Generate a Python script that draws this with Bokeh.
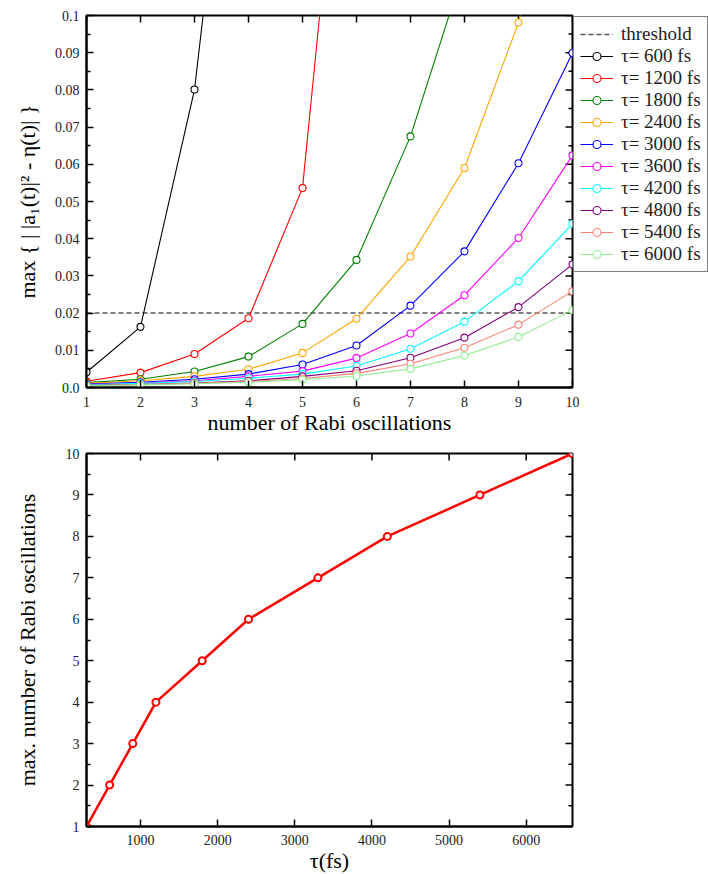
import math
from bokeh.plotting import figure
from bokeh.models import FixedTicker, Range1d, Legend, LegendItem
from bokeh.layouts import column
from bokeh.embed import file_html
from bokeh.resources import INLINE

FONT = "Liberation Serif"

# ---------------- data: top panel ----------------
n_rabi = [1, 2, 3, 4, 5, 6, 7, 8, 9, 10]
threshold = 0.02
series_labels = ["τ= 600 fs", "τ= 1200 fs", "τ= 1800 fs", "τ= 2400 fs", "τ= 3000 fs",
                 "τ= 3600 fs", "τ= 4200 fs", "τ= 4800 fs", "τ= 5400 fs", "τ= 6000 fs"]
series_colors = ["black", "red", "green", "orange", "blue",
                 "magenta", "cyan", "purple", "salmon", "lightgreen"]
err_600 = [0.0041, 0.0163, 0.0801, 0.205]
err_1200 = [0.0017, 0.0040, 0.0090, 0.0186, 0.0536, 0.200]
err_1800 = [0.0013, 0.0022, 0.0043, 0.0083, 0.0171, 0.0343, 0.0675, 0.113]
err_2400 = [0.0011, 0.0018, 0.0030, 0.0049, 0.0093, 0.0185, 0.0352, 0.0590, 0.0981, 0.163]
err_3000 = [0.0009, 0.0014, 0.0022, 0.0036, 0.0062, 0.0113, 0.0220, 0.0366, 0.0603, 0.0899]
err_3600 = [0.0008, 0.0012, 0.0018, 0.0030, 0.0044, 0.0079, 0.0145, 0.0248, 0.0402, 0.0624]
err_4200 = [0.0007, 0.0011, 0.0016, 0.0025, 0.0036, 0.0058, 0.0104, 0.0177, 0.0286, 0.0440]
err_4800 = [0.0005, 0.0008, 0.0012, 0.0018, 0.0030, 0.0045, 0.0080, 0.0134, 0.0216, 0.0331]
err_5400 = [0.0005, 0.0008, 0.0011, 0.0016, 0.0024, 0.0038, 0.0064, 0.0107, 0.0169, 0.0259]
err_6000 = [0.0004, 0.0007, 0.0010, 0.0014, 0.0021, 0.0031, 0.0050, 0.0086, 0.0136, 0.0208]
series_values = [err_600, err_1200, err_1800, err_2400, err_3000,
                 err_3600, err_4200, err_4800, err_5400, err_6000]
top_x_range = [1, 10]
top_y_range = [0, 0.1]
top_y_ticks = [0, 0.01, 0.02, 0.03, 0.04, 0.05, 0.06, 0.07, 0.08, 0.09, 0.1]
top_y_tick_labels = ["0.0", "0.01", "0.02", "0.03", "0.04", "0.05", "0.06", "0.07", "0.08", "0.09", "0.1"]
top_y_minor = [0.005, 0.015, 0.025, 0.035, 0.045, 0.055, 0.065, 0.075, 0.085, 0.095]

# ---------------- data: bottom panel ----------------
tau_fs = [300, 600, 900, 1200, 1800, 2400, 3300, 4200, 5400, 6600]
max_osc = [1, 2, 3, 4, 5, 6, 7, 8, 9, 10]
bot_x_range = [300, 6600]
bot_y_range = [1, 10]
bot_x_ticks = [1000, 2000, 3000, 4000, 5000, 6000]
bot_y_ticks = [1, 2, 3, 4, 5, 6, 7, 8, 9, 10]
bot_y_minor = [1.5, 2.5, 3.5, 4.5, 5.5, 6.5, 7.5, 8.5, 9.5]


def style_axis(ax):
    ax.axis_line_color = "black"
    ax.axis_line_width = 2
    ax.major_tick_in = 7
    ax.major_tick_out = 0
    ax.minor_tick_in = 4
    ax.minor_tick_out = 0
    ax.major_tick_line_color = "black"
    ax.major_tick_line_width = 1.5
    ax.minor_tick_line_color = "black"
    ax.minor_tick_line_width = 1.5
    ax.major_label_text_font = FONT
    ax.axis_label_text_font = FONT
    ax.axis_label_text_font_style = "normal"
    ax.axis_label_text_color = "black"
    ax.major_label_text_color = "#222222"
    ax.major_label_text_font_size = "14px"
    ax.axis_label_text_font_size = "22px"
    ax.major_label_standoff = 7


def mirror_ticks(p, xticks, yticks, xminor, yminor, xr, yr):
    # tick marks on the top and right frame edges (half of each dash is clipped by the frame)
    kw = dict(marker="dash", line_color="black", line_width=1.5, fill_color=None)
    p.scatter(x=xticks, y=[yr[1]] * len(xticks), angle=math.pi / 2, size=14, **kw)
    p.scatter(x=[xr[1]] * len(yticks), y=yticks, angle=0, size=14, **kw)
    if xminor:
        p.scatter(x=xminor, y=[yr[1]] * len(xminor), angle=math.pi / 2, size=8, **kw)
    if yminor:
        p.scatter(x=[xr[1]] * len(yminor), y=yminor, angle=0, size=8, **kw)


def make_fig(fw, fh, xr, yr, mb_top, mb_bottom, mb_right):
    p = figure(frame_width=fw, frame_height=fh,
               x_range=Range1d(*xr), y_range=Range1d(*yr),
               output_backend="svg", toolbar_location=None,
               min_border_left=86, min_border_right=mb_right,
               min_border_top=mb_top, min_border_bottom=mb_bottom)
    p.xgrid.visible = False
    p.ygrid.visible = False
    p.outline_line_color = "black"
    p.outline_line_width = 2
    p.background_fill_color = "white"
    p.border_fill_color = "white"
    return p


# ================= top figure =================
p1 = make_fig(486, 372, top_x_range, top_y_range, 15, 48, 2)

p1.xaxis.ticker = FixedTicker(ticks=n_rabi, minor_ticks=[])
p1.yaxis.ticker = FixedTicker(ticks=top_y_ticks, minor_ticks=top_y_minor)
p1.yaxis.major_label_overrides = {t: lab for t, lab in zip(top_y_ticks, top_y_tick_labels)}
p1.xaxis.axis_label = "number of Rabi oscillations"
p1.yaxis.axis_label = "max { | |a₁(t)|² - η(t)| }"
for ax in p1.xaxis + p1.yaxis:
    style_axis(ax)
p1.xaxis.major_label_standoff = 9
p1.xaxis.axis_label_standoff = 0
p1.yaxis.axis_label_standoff = 12
mirror_ticks(p1, n_rabi, top_y_ticks, [], top_y_minor, top_x_range, top_y_range)

items = []
thr = p1.line(x=[n_rabi[0], n_rabi[-1]], y=[threshold, threshold],
              line_color="#555555", line_width=1.5, line_dash="5 3")
items.append(LegendItem(label="threshold", renderers=[thr]))
for vals, col, lab in zip(series_values, series_colors, series_labels):
    xs = n_rabi[:len(vals)]
    ln = p1.line(x=xs, y=vals, line_color=col, line_width=1.1)
    sc = p1.scatter(x=xs, y=vals, marker="circle", size=7, fill_color="white",
                    line_color=col, line_width=1.1)
    items.append(LegendItem(label=lab, renderers=[ln, sc]))

legend = Legend(items=items, location="top_left", margin=1, padding=6, spacing=0,
                label_text_font=FONT, label_text_font_size="19px",
                label_text_color="#222222", label_height=20, glyph_height=20,
                glyph_width=33, label_standoff=8,
                border_line_color="black", border_line_width=1.5,
                background_fill_color="white", background_fill_alpha=1.0)
p1.add_layout(legend, "right")

# ================= bottom figure =================
p2 = make_fig(486, 373, bot_x_range, bot_y_range, 16, 47, 136)
p2.xaxis.ticker = FixedTicker(ticks=bot_x_ticks, minor_ticks=[])
p2.yaxis.ticker = FixedTicker(ticks=bot_y_ticks, minor_ticks=bot_y_minor)
p2.xaxis.axis_label = "τ(fs)"
p2.yaxis.axis_label = "max. number of Rabi oscillations"
for ax in p2.xaxis + p2.yaxis:
    style_axis(ax)
p2.xaxis.major_label_standoff = 8
p2.xaxis.axis_label_standoff = 0
p2.yaxis.axis_label_standoff = 23
mirror_ticks(p2, bot_x_ticks, bot_y_ticks, [], bot_y_minor, bot_x_range, bot_y_range)

p2.line(x=tau_fs, y=max_osc, line_color="red", line_width=2.5)
p2.scatter(x=tau_fs, y=max_osc, marker="circle", size=7, fill_color="white",
           line_color="red", line_width=2)

layout = column(p1, p2, spacing=0)
open("out.html", "w").write(file_html(layout, INLINE))
